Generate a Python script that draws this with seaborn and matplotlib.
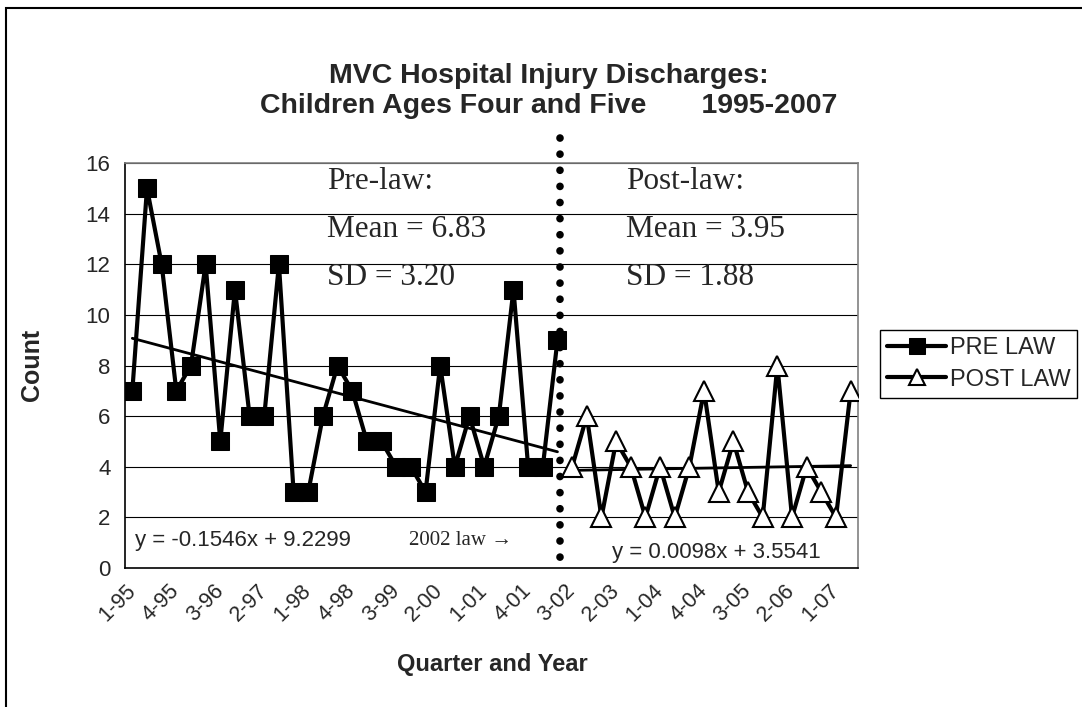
import numpy as np
import pandas as pd
import matplotlib
matplotlib.use("Agg")
import matplotlib.pyplot as plt
from matplotlib.patches import Rectangle
import seaborn as sns

# -----------------------------
# Data
# -----------------------------
years = ["95", "96", "97", "98", "99", "00", "01", "02", "03", "04", "05", "06", "07"]
quarters = ["1", "2", "3", "4"]
quarter_labels = [f"{q}-{y}" for y in years for q in quarters][:50]  # 1-95 ... 2-07

pre_law = [7, 15, 12, 7, 8, 12, 5, 11, 6, 6, 12, 3, 3, 6, 8,
           7, 5, 5, 4, 4, 3, 8, 4, 6, 4, 6, 11, 4, 4, 9]
post_law = [4, 6, 2, 5, 4, 2, 4, 2, 4, 7, 3, 5, 3, 2, 8, 2, 4, 3, 2, 7]

pre_pos = np.arange(len(pre_law))
post_pos = np.arange(len(pre_law), len(pre_law) + len(post_law))

df_pre = pd.DataFrame({"pos": pre_pos, "count": pre_law})
df_post = pd.DataFrame({"pos": post_pos, "count": post_law})

# -----------------------------
# Figure
# -----------------------------
sns.set_style("white")
plt.rcParams["font.family"] = ["Liberation Sans", "DejaVu Sans"]

W, H = 1082, 707
fig = plt.figure(figsize=(W / 100, H / 100), dpi=100)
L, R, T, B = 125, 858, 163, 568
ax = fig.add_axes([L / W, 1 - B / H, (R - L) / W, (B - T) / H])

# chart area border (only top/left visible in the picture)
fig.patches.append(Rectangle((6 / W, -0.1), 2.0, 1 - 8 / H + 0.1, transform=fig.transFigure,
                             fill=False, edgecolor="black", linewidth=1.5))

# gridlines
for yv in range(2, 17, 2):
    ax.axhline(yv, color="black", lw=0.8, zorder=0)

sns.lineplot(data=df_pre, x="pos", y="count", ax=ax, color="black", lw=3,
             marker="s", markersize=13, markerfacecolor="black", markeredgecolor="black",
             label="PRE LAW", zorder=4)
sns.lineplot(data=df_post, x="pos", y="count", ax=ax, color="black", lw=3,
             marker="^", markersize=15, markerfacecolor="white", markeredgecolor="black",
             markeredgewidth=1.5, label="POST LAW", zorder=4)

# linear trend lines
sns.regplot(data=df_pre, x="pos", y="count", ax=ax, scatter=False, ci=None,
            truncate=True, color="black", line_kws={"lw": 2, "zorder": 3})
sns.regplot(data=df_post, x="pos", y="count", ax=ax, scatter=False, ci=None,
            truncate=True, color="black", line_kws={"lw": 2, "zorder": 3})

# law change marker
law_x = 29.2
ax.plot([law_x, law_x], [17.0, -0.15], color="black", lw=5.5,
        linestyle=(0, (0.01, 2.1)), dash_capstyle="round", clip_on=False, zorder=5)

ax.set_xlim(-0.5, 49.5)
ax.set_ylim(0, 16)
ax.set_yticks(range(0, 17, 2))
ax.set_xticks(range(0, 50, 3))
ax.set_xticklabels(quarter_labels[::3], rotation=45, ha="right", va="center",
                   rotation_mode="anchor")
ax.set_xticks(np.arange(-0.5, 50, 1), minor=True)
ax.tick_params(axis="x", which="major", length=0, pad=14, labelsize=15.5)
ax.tick_params(axis="x", which="minor", length=6, width=1, direction="out", color="black")
ax.tick_params(axis="y", length=9, width=1, direction="inout", color="black",
               labelsize=16, pad=6)
ax.set_xlabel("")
ax.set_ylabel("")

for s in ["left", "bottom"]:
    ax.spines[s].set_color("black")
    ax.spines[s].set_linewidth(1.2)
for s in ["top", "right"]:
    ax.spines[s].set_color("#808080")
    ax.spines[s].set_linewidth(1.2)

# annotations
serif = ["Liberation Serif", "DejaVu Serif"]
for txt, yv in [("Pre-law:", 15.26), ("Mean = 6.83", 13.36), ("SD = 3.20", 11.46)]:
    ax.text(13.3, yv, txt, family=serif, fontsize=22.5, va="center", ha="left")
for txt, yv in [("Post-law:", 15.26), ("Mean = 3.95", 13.36), ("SD = 1.88", 11.46)]:
    ax.text(33.7, yv, txt, family=serif, fontsize=22.5, va="center", ha="left")
ax.text(0.2, 1.07, "y = -0.1546x + 9.2299", fontsize=16, va="center", ha="left")
ax.text(32.7, 0.63, "y = 0.0098x + 3.5541", fontsize=16, va="center", ha="left")
ax.text(18.9, 1.07, "2002 law \u2192", family=serif, fontsize=15, va="center", ha="left")

# titles and axis labels
fig.text(549 / W, 1 - 91 / H, "MVC Hospital Injury Discharges:\nChildren Ages Four and Five       1995-2007",
         ha="center", va="center", fontsize=20.5, fontweight="bold", linespacing=1.2)
fig.text(32 / W, 1 - 365 / H, "Count", rotation=90, ha="center", va="center",
         fontsize=18, fontweight="bold")
fig.text(492 / W, 1 - 665 / H, "Quarter and Year", ha="center", va="center",
         fontsize=17, fontweight="bold")

# legend
ax.get_legend().remove()
handles, labels = ax.get_legend_handles_labels()
leg = fig.legend(handles, labels, loc="upper left", bbox_to_anchor=(880 / W, 1 - 330 / H),
                 frameon=True, fancybox=False, framealpha=1, edgecolor="black",
                 fontsize=17, handlelength=2.5, handletextpad=0.15, borderpad=0.3,
                 labelspacing=0.4, borderaxespad=0)
leg.get_frame().set_linewidth(1.0)
for h in leg.legend_handles:
    h.set_markersize(12)

fig.savefig("out.png", dpi=100)
plt.close(fig)
